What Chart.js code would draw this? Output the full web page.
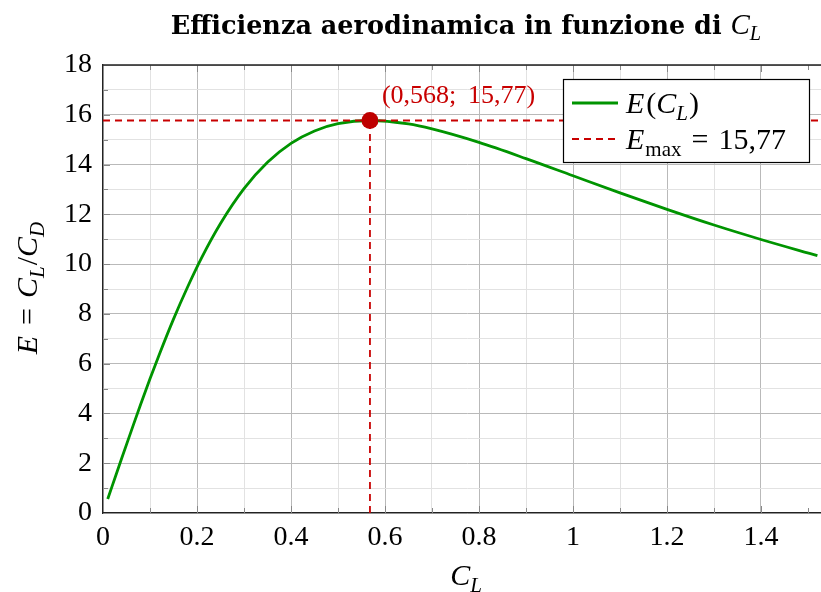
<!DOCTYPE html>
<html>
<head>
<meta charset="utf-8">
<script src="https://cdn.jsdelivr.net/npm/chart.js@4"></script>
<style>
html,body{margin:0;padding:0;background:#fff;overflow:hidden;}
#wrap{width:821px;height:592px;overflow:hidden;position:relative;}
canvas{display:block;}
</style>
</head>
<body>
<div id="wrap"><canvas id="c" width="840" height="592" style="width:840px;height:592px"></canvas></div>
<script>
// ---- data ----
const CL = [0.01,0.02,0.04,0.06,0.08,0.10,0.12,0.15,0.18,0.21,0.25,0.30,0.35,0.40,0.45,0.50,0.568,0.65,0.70,0.80,0.90,1.00,1.10,1.20,1.30,1.40,1.52];
const E  = [0.56,1.11,2.21,3.29,4.36,5.39,6.38,7.79,9.08,10.26,11.63,13.03,14.09,14.85,15.35,15.64,15.77,15.63,15.43,14.89,14.24,13.55,12.86,12.20,11.57,10.99,10.34];
const CL_OPT = 0.568;
const E_MAX = 15.77;
const xTickLabels = ['0','0.2','0.4','0.6','0.8','1','1.2','1.4'];
const yTickLabels = ['0','2','4','6','8','10','12','14','16','18'];
const X_MIN = 0, X_MAX = 1.55, Y_MIN = 0, Y_MAX = 18;

const GREEN = 'rgb(0,148,0)';
const RED = 'rgb(200,0,0)';
const SERIF = '"Liberation Serif", "DejaVu Serif", serif';
const DASH = [7,5];
const SP = '\u2004';

function drawRich(ctx, runs, x, y, align) {
  const parts = runs.map(r => {
    const s = r.sub ? r.size * 0.7 : r.size;
    const font = (r.it ? 'italic ' : '') + (r.bd ? 'bold ' : '') + s + 'px ' + (r.fam || SERIF);
    ctx.font = font;
    return {r, font, w: ctx.measureText(r.t).width + (r.kern || 0), dy: r.sub ? r.size * 0.22 : 0};
  });
  const total = parts.reduce((a,p)=>a+p.w,0);
  let cx = align === 'center' ? x - total/2 : x;
  ctx.textBaseline = 'alphabetic';
  ctx.textAlign = 'left';
  parts.forEach(p => {
    ctx.font = p.font;
    ctx.fillText(p.r.t, cx, y + p.dy);
    cx += p.w;
  });
  return total;
}

const decor = {
  id: 'decor',
  beforeDatasetsDraw(chart) {
    const {ctx, chartArea: a, scales: {x, y}} = chart;
    ctx.save();
    ctx.strokeStyle = '#888';
    ctx.lineWidth = 1;
    ctx.beginPath();
    for (let i = 1; i <= 15; i++) {
      const px = Math.round(x.getPixelForValue(i/10)) + 0.5;
      const len = i % 2 === 0 ? 7 : 5;
      ctx.moveTo(px, a.bottom); ctx.lineTo(px, a.bottom - len);
      ctx.moveTo(px, a.top); ctx.lineTo(px, a.top + len);
    }
    for (let j = 1; j < 18; j++) {
      const py = Math.round(y.getPixelForValue(j)) + 0.5;
      const len = j % 2 === 0 ? 7 : 5;
      ctx.moveTo(a.left, py); ctx.lineTo(a.left + len, py);
    }
    ctx.stroke();
    ctx.strokeStyle = '#222';
    ctx.lineWidth = 1.3;
    ctx.beginPath();
    ctx.moveTo(a.left, a.top); ctx.lineTo(a.right, a.top);
    ctx.moveTo(a.right, a.top); ctx.lineTo(a.right, a.bottom);
    ctx.stroke();
    ctx.restore();
  },
  afterDatasetsDraw(chart) {
    const {ctx, scales: {x, y}} = chart;
    ctx.save();
    ctx.fillStyle = RED;
    drawRich(ctx, [{t:'(0,568;\u2009 15,77)', size:26}], x.getPixelForValue(CL_OPT) + 12, y.getPixelForValue(E_MAX) - 18, 'left');
    const L = 563, T = 79, W = 246, H = 83;
    ctx.fillStyle = '#fff';
    ctx.fillRect(L, T, W, H);
    ctx.strokeStyle = '#000';
    ctx.lineWidth = 1.2;
    ctx.strokeRect(L + 0.5, T + 0.5, W, H);
    ctx.strokeStyle = GREEN;
    ctx.lineWidth = 2.8;
    ctx.setLineDash([]);
    ctx.beginPath(); ctx.moveTo(572, 103); ctx.lineTo(618, 103); ctx.stroke();
    ctx.strokeStyle = RED;
    ctx.lineWidth = 1.8;
    ctx.setLineDash(DASH);
    ctx.beginPath(); ctx.moveTo(572, 139); ctx.lineTo(616, 139); ctx.stroke();
    ctx.setLineDash([]);
    ctx.fillStyle = '#000';
    drawRich(ctx, [{t:'E', it:1, size:30, kern:2},{t:'(', size:30},{t:'C', it:1, size:30},{t:'L', it:1, sub:1, size:30, kern:1},{t:')', size:30}], 626, 113, 'left');
    drawRich(ctx, [{t:'E', it:1, size:30, kern:1},{t:'max', sub:1, size:30},{t:SP + '=' + SP + '15,77', size:30}], 626, 149, 'left');
    ctx.restore();
  },
  afterDraw(chart) {
    const {ctx} = chart;
    ctx.save();
    ctx.fillStyle = '#000';
    drawRich(ctx, [
      {t:'Efficienza aerodinamica in funzione di ', bd:1, size:25.5, fam:'"DejaVu Serif", serif'},
      {t:'C', it:1, size:29},
      {t:'L', it:1, sub:1, size:29}
    ], 466, 34, 'center');
    drawRich(ctx, [{t:'C', it:1, size:30},{t:'L', it:1, sub:1, size:30}], 466, 585, 'center');
    ctx.translate(37, 288);
    ctx.rotate(-Math.PI/2);
    drawRich(ctx, [
      {t:'E', it:1, size:30, kern:1},{t:SP + '=' + SP, size:30},{t:'C', it:1, size:30},{t:'L', it:1, sub:1, size:30, kern:1},
      {t:'/', size:30},{t:'C', it:1, size:30},{t:'D', it:1, sub:1, size:30}
    ], 0, 0, 'center');
    ctx.restore();
  }
};

new Chart(document.getElementById('c'), {
  type: 'scatter',
  data: {
    datasets: [
      {
        label: 'E(CL)',
        data: CL.map((v,i)=>({x:v, y:E[i]})),
        showLine: true,
        borderColor: GREEN,
        borderWidth: 2.8,
        pointRadius: 0,
        cubicInterpolationMode: 'monotone',
        order: 3
      },
      {
        label: 'Emax',
        data: [{x:X_MIN, y:E_MAX},{x:X_MAX, y:E_MAX}],
        showLine: true,
        borderColor: RED,
        borderWidth: 1.8,
        borderDash: DASH,
        pointRadius: 0,
        order: 2
      },
      {
        label: 'CLopt',
        data: [{x:CL_OPT, y:Y_MIN},{x:CL_OPT, y:E_MAX}],
        showLine: true,
        borderColor: RED,
        borderWidth: 1.8,
        borderDash: DASH,
        pointRadius: 0,
        order: 1
      },
      {
        label: 'max',
        data: [{x:CL_OPT, y:E_MAX}],
        showLine: false,
        pointRadius: 8.5,
        pointBackgroundColor: 'rgb(190,0,0)',
        pointBorderColor: 'rgb(190,0,0)',
        pointBorderWidth: 0,
        order: 0
      }
    ]
  },
  options: {
    responsive: false,
    animation: false,
    devicePixelRatio: 1,
    layout: {padding: {left: 0, right: 0, top: 65, bottom: 0}},
    plugins: {legend: {display: false}, tooltip: {enabled: false}, title: {display: false}},
    scales: {
      x: {
        type: 'linear', min: X_MIN, max: X_MAX,
        afterFit(s) { s.height = 79; },
        border: {color: '#222', width: 1.3},
        grid: {
          drawTicks: false,
          lineWidth: 1,
          color: c => (Math.round(c.tick.value * 10) % 2 === 0) ? '#b9b9b9' : '#e2e2e2'
        },
        ticks: {
          stepSize: 0.1, autoSkip: false, maxRotation: 0, padding: 8,
          color: '#000', font: {family: SERIF, size: 28},
          callback: v => { const i = Math.round(v * 10); return (i % 2 === 0 && i/2 < xTickLabels.length && Math.abs(v*10 - i) < 1e-6) ? xTickLabels[i/2] : ''; }
        }
      },
      y: {
        type: 'linear', min: Y_MIN, max: Y_MAX,
        afterFit(s) { s.width = 103; },
        border: {color: '#222', width: 1.3},
        grid: {
          drawTicks: false,
          lineWidth: 1,
          color: c => (Math.round(c.tick.value) % 2 === 0) ? '#b9b9b9' : '#e2e2e2'
        },
        ticks: {
          stepSize: 1, autoSkip: false, padding: 11,
          color: '#000', font: {family: SERIF, size: 28},
          callback: v => { const i = Math.round(v); return (i % 2 === 0) ? yTickLabels[i/2] : ''; }
        }
      }
    }
  },
  plugins: [decor]
});
</script>
</body>
</html>
